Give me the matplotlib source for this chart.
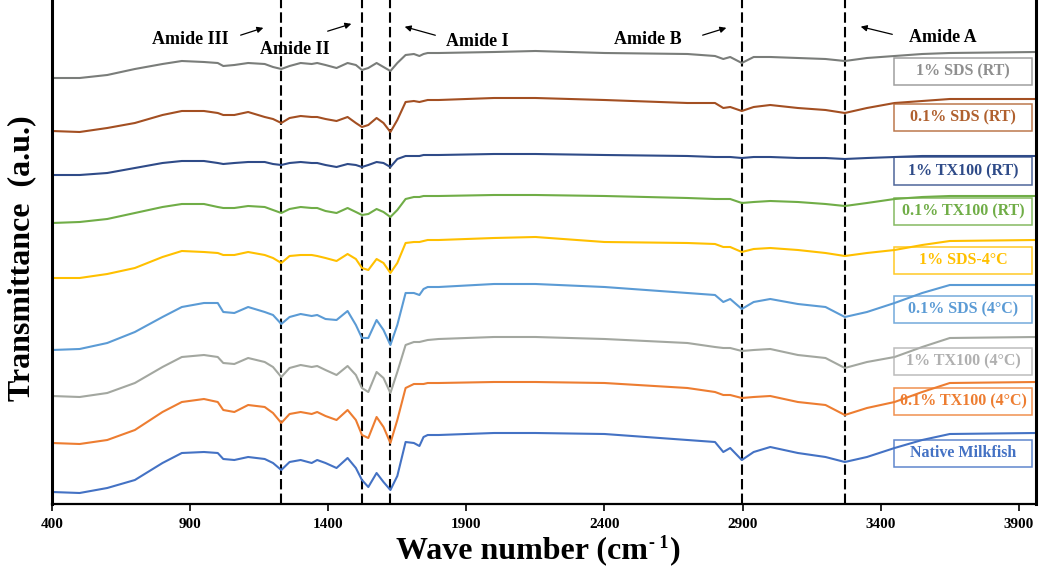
import matplotlib
matplotlib.use('Agg')
import matplotlib.pyplot as plt
from matplotlib.patches import Rectangle

# Wavenumber sampling points (cm-1)
wavenumber = [400, 500, 600, 700, 800, 870, 950, 1000, 1020, 1060, 1110, 1170, 1200, 1230,
              1260, 1300, 1340, 1360, 1390, 1430, 1470, 1500, 1522, 1545, 1575, 1600, 1625,
              1650, 1680, 1710, 1730, 1745, 1760, 1800, 2000, 2150, 2400, 2700, 2800, 2830,
              2855, 2897, 2940, 3000, 3100, 3200, 3270, 3350, 3450, 3550, 3650, 3962]

# Stacked transmittance (a.u., offsets included), top to bottom
sds1_rt = [426, 426, 429, 435, 440, 443, 442, 441, 438, 439, 441, 440, 437, 435, 438, 441, 440,
           441, 439, 436, 441, 439, 434, 436, 441, 437, 433, 441, 449, 450, 448, 450, 451, 451,
           452, 453, 451, 450, 448, 445, 447, 441, 447, 447, 446, 445, 443, 446, 448, 450, 451, 452]
sds01_rt = [373, 372, 376, 381, 389, 393, 393, 391, 389, 389, 392, 387, 385, 381, 386, 388, 387,
            387, 385, 383, 387, 381, 377, 379, 386, 381, 372, 384, 402, 403, 402, 403, 404, 404,
            406, 406, 404, 401, 401, 396, 397, 393, 397, 399, 396, 394, 391, 396, 401, 403, 405, 405]
tx1_rt = [329, 329, 331, 336, 341, 343, 343, 341, 340, 341, 342, 342, 340, 339, 341, 342, 341,
          341, 339, 337, 340, 339, 337, 339, 342, 341, 337, 345, 348, 348, 348, 349, 349, 349,
          350, 350, 349, 348, 347, 347, 347, 346, 347, 347, 346, 346, 345, 346, 347, 348, 348, 348]
tx01_rt = [281, 282, 285, 291, 297, 300, 300, 297, 296, 296, 298, 297, 294, 291, 295, 297, 296,
           296, 293, 291, 296, 292, 289, 290, 295, 292, 287, 294, 305, 307, 307, 308, 308, 308,
           309, 309, 308, 306, 305, 305, 305, 301, 302, 303, 302, 300, 298, 301, 305, 307, 308, 308]
sds1_4c = [226, 226, 230, 236, 247, 253, 252, 251, 249, 249, 252, 249, 246, 241, 248, 249, 249,
           248, 246, 243, 250, 245, 236, 234, 245, 241, 231, 241, 261, 262, 262, 263, 264, 264,
           266, 267, 262, 261, 260, 257, 257, 252, 255, 256, 254, 251, 248, 251, 254, 259, 263, 264]
sds01_4c = [154, 155, 161, 172, 187, 197, 201, 201, 192, 191, 197, 192, 189, 180, 187, 190, 188,
            189, 185, 184, 193, 179, 166, 166, 184, 174, 159, 179, 211, 211, 209, 215, 217, 217,
            220, 220, 217, 211, 209, 202, 205, 195, 202, 205, 200, 197, 187, 192, 201, 211, 219, 219]
tx1_4c = [108, 107, 111, 121, 137, 147, 149, 147, 141, 140, 146, 142, 137, 127, 136, 139, 137,
          138, 134, 129, 138, 129, 116, 112, 132, 126, 111, 132, 159, 162, 162, 163, 164, 165,
          167, 167, 165, 161, 157, 156, 156, 153, 154, 155, 149, 146, 136, 142, 147, 157, 166, 167]
tx01_4c = [61, 60, 64, 74, 92, 102, 105, 102, 94, 92, 99, 97, 91, 81, 90, 92, 90,
           92, 88, 84, 94, 84, 69, 66, 87, 77, 61, 84, 116, 120, 120, 120, 121, 121,
           122, 122, 121, 116, 112, 109, 109, 106, 107, 108, 102, 99, 89, 96, 102, 112, 121, 122]
native = [12, 11, 16, 24, 41, 51, 52, 51, 45, 44, 47, 45, 41, 34, 42, 44, 41,
          44, 41, 36, 46, 36, 24, 17, 31, 22, 14, 28, 62, 61, 58, 67, 69, 69,
          71, 71, 70, 64, 62, 52, 56, 44, 52, 57, 51, 47, 42, 47, 56, 64, 70, 71]

series = [sds1_rt, sds01_rt, tx1_rt, tx01_rt, sds1_4c, sds01_4c, tx1_4c, tx01_4c, native]
labels = ["1% SDS (RT)", "0.1% SDS (RT)", "1% TX100 (RT)", "0.1% TX100 (RT)", "1% SDS-4°C",
          "0.1% SDS (4°C)", "1% TX100 (4°C)", "0.1% TX100 (4°C)", "Native Milkfish"]
line_colors = ['#7a7d7a', '#a34f22', '#2f4b88', '#70ad47', '#ffc000',
               '#5b9bd5', '#a3a7a0', '#ed7d31', '#4472c4']
text_colors = ['#8f8f8f', '#b0602e', '#2f4b88', '#70ad47', '#ffc000',
               '#5b9bd5', '#b0b0b0', '#ed7d31', '#4472c4']

amide_positions = [1230, 1522, 1625, 2897, 3270]
amide_names = ["Amide III", "Amide II", "Amide I", "Amide B", "Amide A"]
xticks = [400, 900, 1400, 1900, 2400, 2900, 3400, 3900]

SERIF = ['Liberation Serif', 'DejaVu Serif']
W, H = 1046, 570

def fp(px, py):
    return (px / W, 1 - py / H)

fig = plt.figure(figsize=(W / 100, H / 100), dpi=100)
ax = fig.add_axes([52 / W, 1 - 504 / H, (1036 - 52) / W, 504 / H])

for vals, c in zip(series, line_colors):
    ax.plot(wavenumber, vals, color=c, lw=1.5, solid_joinstyle='round', solid_capstyle='round')

for xp in amide_positions:
    ax.axvline(xp, color='black', lw=1.5, ls=(0, (5, 2)), zorder=1)

ax.set_xlim(400, 3962)
ax.set_ylim(0, 504)
ax.set_xticks(xticks)
ax.set_xticklabels([str(t) for t in xticks], family=SERIF, fontweight='bold', fontsize=11)
ax.set_yticks([])
ax.tick_params(axis='x', direction='out', length=5, width=1.2, pad=5)
ax.spines['top'].set_visible(False)
ax.spines['left'].set_linewidth(2.2)
ax.spines['right'].set_linewidth(2.2)
ax.spines['bottom'].set_linewidth(1.6)

fig.text(*fp(22, 258), "Transmittance  (a.u.)", rotation=90, ha='center', va='center',
         family=SERIF, fontweight='bold', fontsize=23)

# x-axis title built from three pieces, centred as a whole at x = 538 px
renderer = fig.canvas.get_renderer()
t_main = fig.text(0, fp(0, 551)[1], "Wave number (cm", ha='left', va='center',
                  family=SERIF, fontweight='bold', fontsize=23)
t_sup = fig.text(0, fp(0, 544)[1], "- 1", ha='left', va='center',
                 family=SERIF, fontweight='bold', fontsize=13)
t_par = fig.text(0, fp(0, 551)[1], ")", ha='left', va='center',
                 family=SERIF, fontweight='bold', fontsize=23)
w_main = t_main.get_window_extent(renderer).width
w_sup = t_sup.get_window_extent(renderer).width
w_par = t_par.get_window_extent(renderer).width
total = w_main + 2 + w_sup + 1 + w_par
x_start = 538 - total / 2
t_main.set_x(x_start / W)
t_sup.set_x((x_start + w_main + 2) / W)
t_par.set_x((x_start + w_main + 2 + w_sup + 1) / W)

# Amide annotations: (text centre, arrow start, arrow end) in pixels
ann = [((190, 40), (238, 36), (266, 27)),
       ((295, 50), (325, 32), (354, 23)),
       ((477, 41), (438, 36), (402, 26)),
       ((648, 40), (700, 36), (729, 27)),
       ((943, 37), (895, 35), (858, 26))]
for name, (tc, a0, a1) in zip(amide_names, ann):
    fig.text(*fp(*tc), name, ha='center', va='center', family=SERIF, fontweight='bold', fontsize=13)
    ax.annotate('', xy=fp(*a1), xycoords='figure fraction', xytext=fp(*a0),
                textcoords='figure fraction',
                arrowprops=dict(arrowstyle='-|>', color='black', lw=0.9, mutation_scale=9))

# Label boxes
box_centers_y = [71.5, 117.5, 171, 211.5, 260.5, 309.5, 361, 401.5, 453]
box_w, box_h, box_x0 = 138, 27, 894
for lab, cy, lc, tc in zip(labels, box_centers_y, line_colors, text_colors):
    x0, y0 = fp(box_x0, cy + box_h / 2)
    fig.patches.append(Rectangle((x0, y0), box_w / W, box_h / H, transform=fig.transFigure,
                                 fill=False, edgecolor=tc, lw=1.1, alpha=0.85))
    fig.text(*fp(box_x0 + box_w / 2, cy), lab, ha='center', va='center', color=tc,
             family=SERIF, fontweight='bold', fontsize=11.5)

fig.savefig('out.png', dpi=100)
